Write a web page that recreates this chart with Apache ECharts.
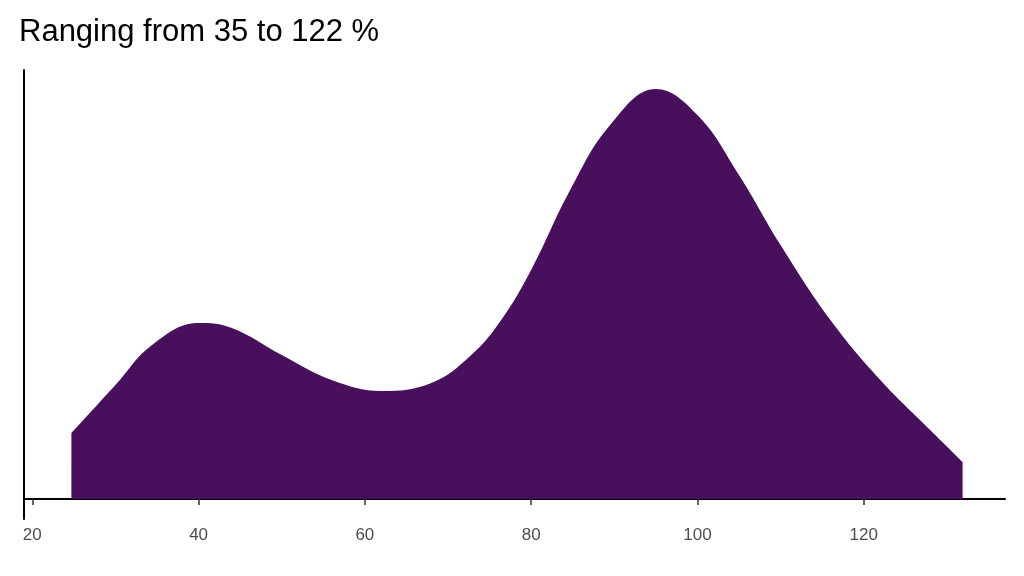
<!DOCTYPE html>
<html><head><meta charset="utf-8">
<script src="https://cdn.jsdelivr.net/npm/echarts@6/dist/echarts.min.js"></script>
<style>html,body{margin:0;padding:0;background:#fff}#c{width:1024px;height:576px}</style>
</head><body><div id="c"></div>
<script>
const xs = [24.7, 30, 34.4, 40, 44, 50, 56, 62, 68, 72.8, 76.4, 80, 84.7, 89.5, 95, 100, 105, 110, 116, 122, 128, 131.9];
const dens = [66, 114, 154, 176, 171, 144, 119, 108, 116, 144, 179, 229, 309, 374, 410, 384, 324, 254, 179, 119, 69, 37];
const tickVals = [20, 40, 60, 80, 100, 120];
const titleText = 'Ranging from 35 to 122 %';
const chart = echarts.init(document.getElementById('c'));
chart.setOption({
  animation: false,
  title: {text: titleText, left: 14, top: 12, textStyle: {fontFamily: 'Liberation Sans', fontSize: 31, fontWeight: 'normal', color: '#000'}},
  grid: {left: 24, right: 19, top: 70, bottom: 57},
  xAxis: {type: 'value', min: 19, max: 137,
    axisLine: {lineStyle: {color: '#000', width: 2}},
    axisTick: {show: true, customValues: tickVals, length: 6, lineStyle: {color: '#333', width: 1.5}},
    axisLabel: {customValues: tickVals, color: '#4d4d4d', fontSize: 17, fontFamily: 'Liberation Sans', margin: 8},
    splitLine: {show: false}},
  yAxis: {type: 'value', min: -20, max: 429,
    axisLine: {show: true, lineStyle: {color: '#000', width: 2}},
    axisTick: {show: false}, axisLabel: {show: false}, splitLine: {show: false}},
  series: [{type: 'line', smooth: 0.4, symbol: 'none',
    data: xs.map((x, i) => [x, dens[i]]),
    lineStyle: {width: 0}, areaStyle: {color: '#480F5C', opacity: 1, origin: 0}}]
});
</script></body></html>
